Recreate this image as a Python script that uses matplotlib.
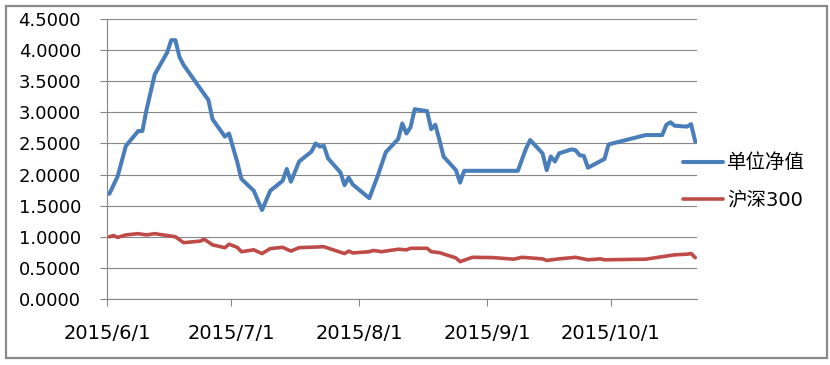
import matplotlib
matplotlib.use("Agg")
import matplotlib.pyplot as plt
import matplotlib.dates as mdates
from matplotlib.patches import Rectangle
from matplotlib.ticker import MultipleLocator, FormatStrFormatter, FuncFormatter
import pandas as pd

# 单位净值 (fund NAV) at its turning points
nav_dates = [
    "2015-06-01", "2015-06-03", "2015-06-05", "2015-06-08", "2015-06-09",
    "2015-06-10", "2015-06-12", "2015-06-15", "2015-06-16", "2015-06-17",
    "2015-06-18", "2015-06-19", "2015-06-23", "2015-06-24", "2015-06-25",
    "2015-06-26", "2015-06-29", "2015-06-30", "2015-07-02", "2015-07-03",
    "2015-07-06", "2015-07-08", "2015-07-10", "2015-07-13", "2015-07-14",
    "2015-07-15", "2015-07-17", "2015-07-20", "2015-07-21", "2015-07-22",
    "2015-07-23", "2015-07-24", "2015-07-27", "2015-07-28", "2015-07-29",
    "2015-07-30", "2015-08-03", "2015-08-05", "2015-08-07", "2015-08-10",
    "2015-08-11", "2015-08-12", "2015-08-13", "2015-08-14", "2015-08-17",
    "2015-08-18", "2015-08-19", "2015-08-20", "2015-08-21", "2015-08-24",
    "2015-08-25", "2015-08-26", "2015-09-08", "2015-09-10", "2015-09-11",
    "2015-09-14", "2015-09-15", "2015-09-16", "2015-09-17", "2015-09-18",
    "2015-09-21", "2015-09-22", "2015-09-23", "2015-09-24", "2015-09-25",
    "2015-09-29", "2015-09-30", "2015-10-09", "2015-10-13", "2015-10-14",
    "2015-10-15", "2015-10-16", "2015-10-19", "2015-10-20", "2015-10-21",
]
nav_values = [
    1.69, 1.97, 2.46, 2.70, 2.70,
    3.04, 3.61, 3.96, 4.16, 4.16,
    3.89, 3.76, 3.385, 3.29, 3.20,
    2.89, 2.61, 2.66, 2.20, 1.93,
    1.74, 1.43, 1.74, 1.90, 2.09,
    1.885, 2.21, 2.37, 2.50, 2.45,
    2.46, 2.26, 2.035, 1.83, 1.95,
    1.84, 1.62, 1.97, 2.36, 2.57,
    2.82, 2.66, 2.76, 3.05, 3.02,
    2.73, 2.80, 2.555, 2.29, 2.07,
    1.87, 2.06, 2.06, 2.42, 2.555,
    2.34, 2.07, 2.29, 2.21, 2.34,
    2.405, 2.39, 2.31, 2.30, 2.11,
    2.25, 2.485, 2.635, 2.635, 2.80,
    2.84, 2.785, 2.77, 2.81, 2.53,
]

# 沪深300, normalised to 1 on 2015/6/1
hs300_dates = [
    "2015-06-01", "2015-06-02", "2015-06-03", "2015-06-05", "2015-06-08",
    "2015-06-10", "2015-06-12", "2015-06-15", "2015-06-17", "2015-06-19",
    "2015-06-23", "2015-06-24", "2015-06-26", "2015-06-29", "2015-06-30",
    "2015-07-02", "2015-07-03", "2015-07-06", "2015-07-08", "2015-07-10",
    "2015-07-13", "2015-07-15", "2015-07-17", "2015-07-23", "2015-07-28",
    "2015-07-29", "2015-07-30", "2015-08-03", "2015-08-04", "2015-08-06",
    "2015-08-10", "2015-08-12", "2015-08-13", "2015-08-17", "2015-08-18",
    "2015-08-20", "2015-08-24", "2015-08-25", "2015-08-28", "2015-09-02",
    "2015-09-07", "2015-09-09", "2015-09-14", "2015-09-15", "2015-09-18",
    "2015-09-22", "2015-09-25", "2015-09-28", "2015-09-29", "2015-10-09",
    "2015-10-12", "2015-10-16", "2015-10-19", "2015-10-20", "2015-10-21",
]
hs300_values = [
    1.00, 1.02, 0.99, 1.03, 1.05,
    1.03, 1.05, 1.02, 1.00, 0.905,
    0.93, 0.96, 0.87, 0.825, 0.88,
    0.83, 0.76, 0.79, 0.73, 0.81,
    0.83, 0.77, 0.825, 0.84, 0.73,
    0.77, 0.74, 0.76, 0.78, 0.76,
    0.80, 0.79, 0.815, 0.815, 0.76,
    0.745, 0.66, 0.60, 0.67, 0.665,
    0.64, 0.67, 0.645, 0.62, 0.645,
    0.67, 0.63, 0.645, 0.63, 0.64,
    0.67, 0.71, 0.72, 0.73, 0.665,
]

BLUE = "#4a7ebb"
RED = "#be4b48"
GRID = "#868686"

plt.rcParams["font.family"] = ["DejaVu Sans", "Noto Sans CJK SC"]

W, H = 830, 365
fig = plt.figure(figsize=(W / 100, H / 100), dpi=100)
ax = fig.add_axes([107.3 / W, 1 - 299 / H, (697.3 - 107.3) / W, 280 / H])

# excel date axis: each point sits in the middle of its day slot
half_day = pd.Timedelta(hours=12)
ax.plot(pd.to_datetime(nav_dates) + half_day, nav_values, color=BLUE,
        linewidth=2.9, solid_joinstyle="round", solid_capstyle="round",
        label="单位净值", zorder=3)
ax.plot(pd.to_datetime(hs300_dates) + half_day, hs300_values, color=RED,
        linewidth=2.6, solid_joinstyle="round", solid_capstyle="round",
        label="沪深300", zorder=3)

ax.set_xlim(pd.Timestamp("2015-06-01"), pd.Timestamp("2015-10-22"))
ax.set_ylim(0, 4.5)
ax.yaxis.set_major_locator(MultipleLocator(0.5))
ax.yaxis.set_major_formatter(FormatStrFormatter("%.4f"))
ax.xaxis.set_major_locator(mdates.MonthLocator())


def fmt_date(x, pos):
    d = mdates.num2date(x)
    return f"{d.year}/{d.month}/{d.day}"


ax.xaxis.set_major_formatter(FuncFormatter(fmt_date))

ax.grid(axis="y", color=GRID, linewidth=0.8)
ax.set_axisbelow(True)
for side in ("top", "right"):
    ax.spines[side].set_visible(False)
for side in ("left", "bottom"):
    ax.spines[side].set_color(GRID)
    ax.spines[side].set_linewidth(0.8)

ax.tick_params(axis="both", direction="out", length=5, width=0.8,
               color=GRID, labelcolor="black")
ax.tick_params(axis="y", pad=14, labelsize=13)
ax.tick_params(axis="x", pad=13, labelsize=14)

fig.legend(loc="center left", bbox_to_anchor=(682.7 / W, 1 - 181.7 / H),
           frameon=False, fontsize=14, borderpad=0, borderaxespad=0,
           handlelength=2.05, handletextpad=0.22, labelspacing=0.95)

# grey frame round the whole chart
fig.patches.append(Rectangle((6 / W, 1 - 358.3 / H), (826.7 - 6) / W,
                             (358.3 - 5.7) / H, transform=fig.transFigure,
                             fill=False, edgecolor="#8a8a8a", linewidth=1.6))

fig.savefig("out.png", dpi=100)
